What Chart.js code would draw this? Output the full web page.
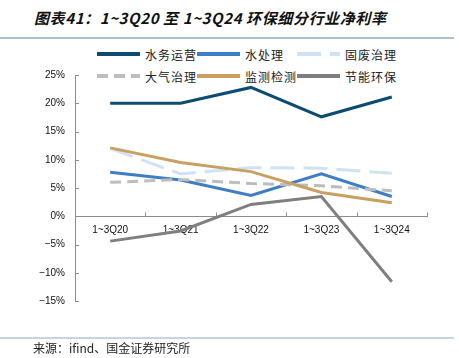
<!DOCTYPE html>
<html>
<head>
<meta charset="utf-8">
<script src="https://cdn.jsdelivr.net/npm/chart.js@4/dist/chart.umd.min.js"></script>
<style>
  html, body { margin: 0; padding: 0; background: #fff; }
  #wrap { position: relative; width: 459px; height: 358px; overflow: hidden; }
  #title { position: absolute; left: 34px; top: 7px; font: italic 700 15px "Noto Sans CJK SC", sans-serif; letter-spacing: 0.6px; color: #111; white-space: nowrap; }
  .rule { position: absolute; left: 0; width: 454px; height: 1.5px; background: #a9c3d4; }
  #source { position: absolute; left: 33px; top: 339px; font: 12px "Noto Sans CJK SC", sans-serif; color: #222; white-space: nowrap; }
  #legend { position: absolute; left: 97px; top: 44px; width: 300px; }
  .item { position: absolute; height: 20px; display: flex; align-items: center; font: 12px "Noto Sans CJK SC", sans-serif; color: #222; letter-spacing: 1px; white-space: nowrap; }
  .item svg { margin-right: 5px; }
  canvas { position: absolute; left: 0; top: 0; }
</style>
</head>
<body>
<div id="wrap">
  <div id="title">图表41：1~3Q20 至 1~3Q24 环保细分行业净利率</div>
  <div class="rule" style="top:37px"></div>
  <div id="legend"></div>
  <canvas id="c" width="459" height="358"></canvas>
  <div class="rule" style="top:337px;background:#c5d6e2"></div>
  <div id="source">来源：ifind、国金证券研究所</div>
</div>
<script>
// 1~3季度累计净利率（%）
const periods = ["1~3Q20", "1~3Q21", "1~3Q22", "1~3Q23", "1~3Q24"];
const yTicks = [25, 20, 15, 10, 5, 0, -5, -10, -15];

const waterOps   = [20.0, 20.0, 22.8, 17.6, 21.1];   // 水务运营
const waterTreat = [7.8, 6.4, 3.7, 7.5, 3.5];        // 水处理
const solidWaste = [12.0, 7.5, 8.6, 8.5, 7.6];       // 固废治理
const airTreat   = [6.0, 6.5, 5.8, 5.4, 4.5];        // 大气治理
const monitoring = [12.1, 9.5, 7.9, 4.2, 2.4];       // 监测检测
const energySave = [-4.4, -2.6, 2.1, 3.5, -11.6];    // 节能环保

const SERIES = [
  { name: "水务运营", data: waterOps,   color: "#0d4c72", dash: [] },
  { name: "水处理",   data: waterTreat, color: "#3e7ec6", dash: [] },
  { name: "固废治理", data: solidWaste, color: "#cfe2f3", dash: [24, 9] },
  { name: "大气治理", data: airTreat,   color: "#bdbdbd", dash: [11, 6] },
  { name: "监测检测", data: monitoring, color: "#c8a062", dash: [] },
  { name: "节能环保", data: energySave, color: "#7f7f7f", dash: [] },
];

// html legend: 3 columns × 2 rows
const legend = document.getElementById("legend");
SERIES.forEach((s, i) => {
  const div = document.createElement("div");
  div.className = "item";
  div.style.left = (i % 3) * 100 + "px";
  div.style.top = Math.floor(i / 3) * 22 + "px";
  const dash = s.dash.length ? ` stroke-dasharray="${s.dash.join(" ")}"` : "";
  div.innerHTML = `<svg width="43" height="6"><line x1="0" y1="3" x2="43" y2="3" stroke="${s.color}" stroke-width="4"${dash}/></svg>${s.name}`;
  legend.appendChild(div);
});

// ticks drawn inward (right of y axis, above x axis) like the source
const innerTicks = {
  id: "innerTicks",
  afterDraw(chart) {
    const { ctx, scales: { x, y } } = chart;
    ctx.save();
    ctx.strokeStyle = "#8c8c8c";
    ctx.lineWidth = 1;
    ctx.beginPath();
    yTicks.forEach((v) => {
      const py = Math.round(y.getPixelForValue(v)) + 0.5;
      ctx.moveTo(x.left, py); ctx.lineTo(x.left + 4, py);
    });
    const y0 = Math.round(y.getPixelForValue(0)) + 0.5;
    for (let i = 1; i <= periods.length; i++) {
      const px = Math.round(x.getPixelForValue(i - 0.5)) + 0.5;
      ctx.moveTo(px, y0); ctx.lineTo(px, y0 - 4);
    }
    ctx.stroke();
    ctx.restore();
  },
};

new Chart(document.getElementById("c"), {
  type: "line",
  data: {
    labels: periods,
    datasets: SERIES.map((s, i) => ({
      label: s.name, data: s.data,
      borderColor: s.color, backgroundColor: s.color,
      borderWidth: 3, borderDash: s.dash,
      pointRadius: 0, tension: 0,
      order: SERIES.length - i,   // later series on top, as in Excel
    })),
  },
  options: {
    responsive: false, animation: false,
    layout: { padding: { left: 0, right: 32, top: 75, bottom: 57 } },
    plugins: { legend: { display: false }, tooltip: { enabled: false } },
    scales: {
      x: {
        position: { y: 0 }, offset: true,
        grid: { display: false, drawTicks: false },
        border: { color: "#8c8c8c", width: 1 },
        ticks: { padding: 8, color: "#111", font: { family: "Liberation Sans", size: 10 } },
      },
      y: {
        min: -15, max: 25,
        afterBuildTicks: (s) => { s.ticks = yTicks.map((v) => ({ value: v })); },
        afterFit: (s) => { s.width = 75; },
        grid: { display: false, drawTicks: false },
        border: { color: "#8c8c8c", width: 1 },
        ticks: { padding: 10, color: "#111", font: { family: "Liberation Sans", size: 10 },
          callback: (v) => (v < 0 ? "\u2212" + (-v) : v) + "%" },
      },
    },
  },
  plugins: [innerTicks],
});
</script>
</body>
</html>
